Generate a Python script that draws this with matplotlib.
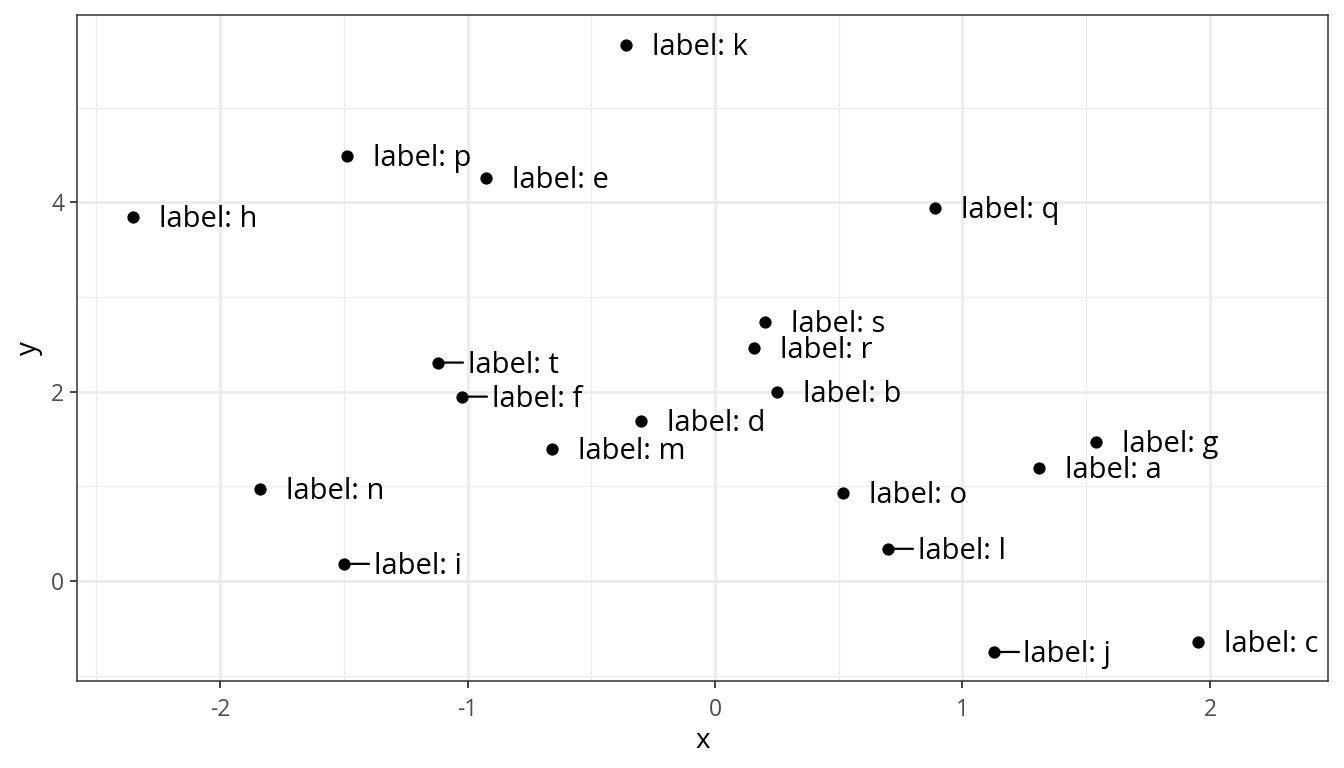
import matplotlib
matplotlib.use("Agg")
import matplotlib.pyplot as plt
import numpy as np

plt.rcParams['font.family'] = ['Open Sans', 'DejaVu Sans']

# data
labels = ["a", "b", "c", "d", "e", "f", "g", "h", "i", "j",
          "k", "l", "m", "n", "o", "p", "q", "r", "s", "t"]
x = [1.309, 0.251, 1.952, -0.299, -0.925, -1.022, 1.539, -2.352, -1.499, 1.127,
     -0.360, 0.699, -0.659, -1.838, 0.517, -1.487, 0.889, 0.158, 0.202, -1.119]
y = [1.196, 2.000, -0.646, 1.693, 4.254, 1.947, 1.471, 3.841, 0.180, -0.751,
     5.660, 0.339, 1.397, 0.974, 0.931, 4.487, 3.937, 2.466, 2.741, 2.307]
with_segment = ["t", "f", "i", "l", "j"]
x_ticks = [-2, -1, 0, 1, 2]
y_ticks = [0, 2, 4]

W, H = 1344, 768
fig = plt.figure(figsize=(W / 100, H / 100), dpi=100)
ax = fig.add_axes([77 / W, 1 - 681 / H, (1328 - 77) / W, (681 - 15) / H])

ax.set_xlim(-2.578, 2.477)
ax.set_ylim(-1.058, 5.98)

# grid
for v in np.arange(-2.5, 3.0, 1.0):
    ax.axvline(v, color="#ebebeb", lw=0.9, zorder=0)
for v in [-1, 1, 3, 5]:
    ax.axhline(v, color="#ebebeb", lw=0.9, zorder=0)
for v in x_ticks:
    ax.axvline(v, color="#ebebeb", lw=1.9, zorder=0)
for v in y_ticks:
    ax.axhline(v, color="#ebebeb", lw=1.9, zorder=0)

ax.scatter(x, y, s=78, color="black", zorder=3, linewidths=0)

for lab, xi, yi in zip(labels, x, y):
    if lab in with_segment:
        ax.annotate("", xy=(xi, yi), xytext=(18, 0), textcoords="offset points",
                    arrowprops=dict(arrowstyle="-", color="black", lw=1.6,
                                    shrinkA=0, shrinkB=0), zorder=2)
        dx = 21.3
    else:
        dx = 18.6
    ax.annotate(f"label: {lab}", xy=(xi, yi), xytext=(dx, -1.8),
                textcoords="offset points", ha="left", va="center",
                fontsize=21, color="black", zorder=4)

ax.set_xticks(x_ticks)
ax.set_xticklabels([str(t) for t in x_ticks])
ax.set_yticks(y_ticks)
ax.set_yticklabels([str(t) for t in y_ticks])
ax.tick_params(axis="both", length=5, width=1.3, color="#333333",
               labelsize=16.5, labelcolor="#4d4d4d")
ax.tick_params(axis="x", pad=7)
ax.tick_params(axis="y", pad=4)
for s in ax.spines.values():
    s.set_color("#333333")
    s.set_linewidth(1.1)

ax.set_xlabel("x", fontsize=20, labelpad=4)
ax.set_ylabel("y", fontsize=20, labelpad=6)

fig.savefig("out.png", dpi=100)
